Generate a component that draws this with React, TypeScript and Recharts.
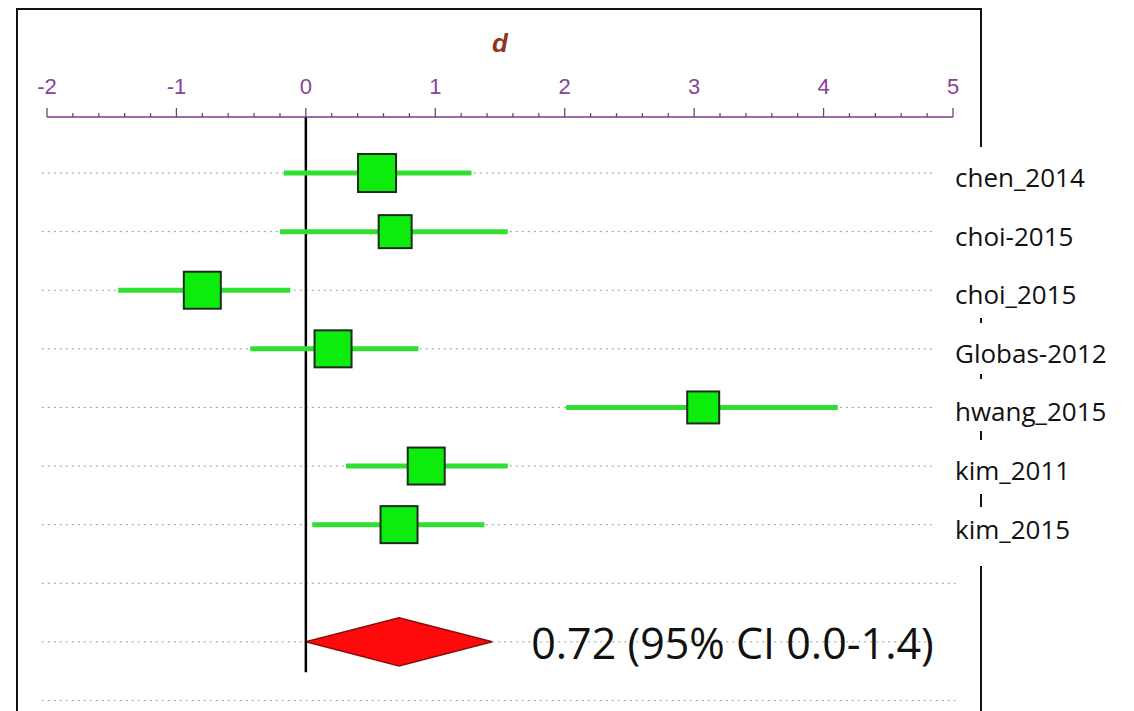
import React from 'react';
import { ComposedChart, XAxis, YAxis, Scatter, ErrorBar, Area, ReferenceLine } from 'recharts';

// studies, top to bottom
const studies = ['chen_2014', 'choi-2015', 'choi_2015', 'Globas-2012', 'hwang_2015', 'kim_2011', 'kim_2015'];
const effect = [0.55, 0.69, -0.8, 0.21, 3.07, 0.93, 0.72];
const ciLow = [-0.17, -0.2, -1.45, -0.43, 2.01, 0.31, 0.05];
const ciHigh = [1.28, 1.56, -0.12, 0.87, 4.11, 1.56, 1.38];
const weights = [15.2, 13.2, 14.8, 14.8, 12.8, 14.8, 14.8];

// pooled estimate
const pooledEffect = 0.72;
const pooledLow = 0.0;
const pooledHigh = 1.44;
const pooledText = '0.72 (95% CI 0.0-1.4)';

const majorTicks = [-2, -1, 0, 1, 2, 3, 4, 5];
const axisTitle = 'd';

const ROWS = 10;
const POOLED_ROW = 8;
const DIAMOND_HALF = 0.41;

const axisTicks: number[] = [];
majorTicks.forEach((t, i) => {
  axisTicks.push(t);
  if (i < majorTicks.length - 1) {
    for (let k = 1; k < 5; k++) axisTicks.push(Number((t + k * 0.2).toFixed(1)));
  }
});

const studyData = studies.map((name, i) => ({
  name,
  x: effect[i],
  y: i,
  err: [effect[i] - ciLow[i], ciHigh[i] - effect[i]],
  w: weights[i],
}));

const diamondData = [
  { x: pooledLow, band: [POOLED_ROW, POOLED_ROW] },
  { x: pooledEffect, band: [POOLED_ROW - DIAMOND_HALF, POOLED_ROW + DIAMOND_HALF] },
  { x: pooledHigh, band: [POOLED_ROW, POOLED_ROW] },
];

const pooledLabelData = [{ x: pooledHigh, y: POOLED_ROW }];

const PURPLE = '#7a3a84';

function AxisTick(props: any) {
  const { x, y, payload } = props;
  const v = payload.value;
  const major = Math.abs(v - Math.round(v)) < 1e-6;
  return (
    <g>
      <line x1={x} x2={x} y1={y} y2={y - (major ? 9 : 4)} stroke={PURPLE} strokeWidth={1.3} />
      {major && (
        <text x={x} y={y - 23} textAnchor="middle" fill="#86449a" fontSize={22} fontFamily="'Liberation Sans', Arial, sans-serif">
          {v}
        </text>
      )}
    </g>
  );
}

function RowLabel(props: any) {
  const { x, y, payload } = props;
  return (
    <text x={x} y={y + 14} textAnchor="start" fill="#111" fontSize={26} fontFamily="'Open Sans', sans-serif">
      {studies[payload.value]}
    </text>
  );
}

function Square(props: any) {
  const { cx, cy, payload } = props;
  const s = payload.w * 2.5;
  return <rect x={cx - s / 2} y={cy - s / 2} width={s} height={s} fill="#0ded0d" stroke="#1c2c1c" strokeWidth={2} />;
}

function PooledLabel(props: any) {
  const { cx, cy } = props;
  return (
    <text x={cx + 39} y={cy + 17} fill="#111" fontSize={43} fontFamily="'Open Sans', sans-serif">
      {pooledText}
    </text>
  );
}

const rightBorder = [
  [8, 147],
  [318, 323],
  [374, 379],
  [431, 440],
  [494, 507],
  [566, 711],
];

export default function App() {
  const rows = Array.from({ length: ROWS }, (_, i) => i);
  return (
    <div style={{ position: 'absolute', left: 0, top: 0, width: 1134, height: 711, background: '#fff', overflow: 'hidden' }}>
      <ComposedChart width={1134} height={711} margin={{ top: 22, right: 0, bottom: 0, left: 47 }}>
        <XAxis
          type="number"
          dataKey="x"
          orientation="top"
          domain={[-2, 5]}
          allowDataOverflow
          ticks={axisTicks}
          interval={0}
          height={95}
          tickSize={0}
          tickMargin={0}
          tickLine={false}
          axisLine={{ stroke: PURPLE, strokeWidth: 1.5 }}
          tick={<AxisTick />}
          label={({ viewBox }: any) => (
            <text
              x={viewBox.x + viewBox.width / 2}
              y={viewBox.y + 30}
              textAnchor="middle"
              fill="#8e3420"
              fontSize={26}
              fontWeight="bold"
              fontStyle="italic"
              fontFamily="'Liberation Sans', Arial, sans-serif"
            >
              {axisTitle}
            </text>
          )}
        />
        <YAxis
          type="number"
          dataKey="y"
          orientation="right"
          domain={[-0.956, 9.18]}
          reversed
          allowDataOverflow
          ticks={[0, 1, 2, 3, 4, 5, 6]}
          interval={0}
          width={181}
          axisLine={false}
          tickLine={false}
          tickSize={0}
          tickMargin={2}
          tick={<RowLabel />}
        />
        {rows.map((i) =>
          i === POOLED_ROW ? (
            <React.Fragment key={i}>
              <ReferenceLine
                segment={[{ x: -2.04, y: i }, { x: pooledLow, y: i }]}
                stroke="#9a9a9a"
                strokeDasharray="2 4"
                ifOverflow="visible"
              />
              <ReferenceLine
                segment={[{ x: pooledHigh, y: i }, { x: 4.86, y: i }]}
                stroke="#9a9a9a"
                strokeDasharray="2 4"
                ifOverflow="visible"
              />
            </React.Fragment>
          ) : (
            <ReferenceLine
              key={i}
              segment={[{ x: -2.04, y: i }, { x: i < studies.length ? 4.86 : 5.02, y: i }]}
              stroke="#9a9a9a"
              strokeDasharray="2 4"
              ifOverflow="visible"
            />
          )
        )}
        <ReferenceLine
          segment={[{ x: 0, y: -0.956 }, { x: 0, y: 8.52 }]}
          stroke="#000"
          strokeWidth={2.5}
          ifOverflow="visible"
        />
        <Area
          data={diamondData}
          dataKey="band"
          type="linear"
          fill="#ff0a0a"
          fillOpacity={1}
          stroke="#8a0f0f"
          strokeWidth={1.5}
          isAnimationActive={false}
          dot={false}
          activeDot={false}
        />
        <Scatter data={studyData} shape={Square} isAnimationActive={false}>
          <ErrorBar dataKey="err" direction="x" width={0} stroke="#30df30" strokeWidth={5} isAnimationActive={false} />
        </Scatter>
        <Scatter data={pooledLabelData} shape={PooledLabel} isAnimationActive={false} />
      </ComposedChart>
      <div style={{ position: 'absolute', left: 16, top: 8, width: 2, height: 703, background: '#111' }} />
      <div style={{ position: 'absolute', left: 16, top: 8, width: 966, height: 2, background: '#111' }} />
      {rightBorder.map(([a, b], i) => (
        <div key={i} style={{ position: 'absolute', left: 980, top: a, width: 2, height: b - a, background: '#111' }} />
      ))}
    </div>
  );
}
